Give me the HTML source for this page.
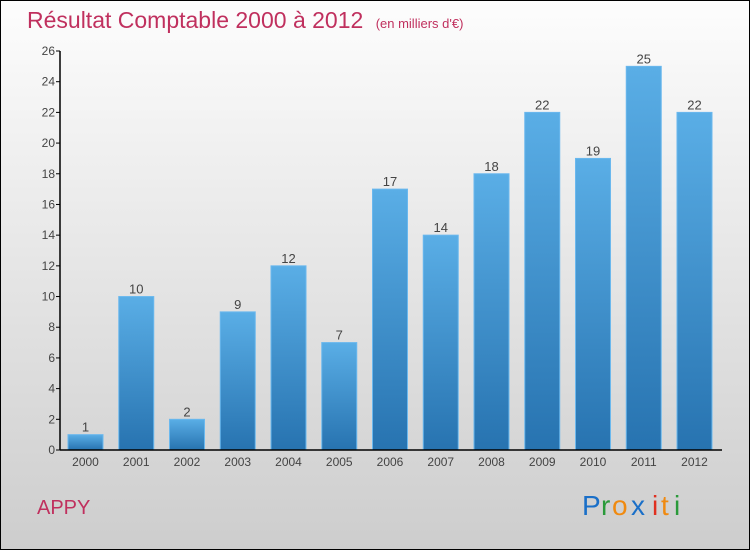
<!DOCTYPE html>
<html><head><meta charset="utf-8"><style>
html,body{margin:0;padding:0}
body{width:750px;height:550px;overflow:hidden;font-family:"Liberation Sans",sans-serif}
</style></head><body>
<svg width="750" height="550" viewBox="0 0 750 550">
<defs>
<linearGradient id="bg" x1="0" y1="0" x2="0" y2="1"><stop offset="0" stop-color="#fdfdfd"/><stop offset="1" stop-color="#cdcdcd"/></linearGradient>
<linearGradient id="bar" x1="0" y1="0" x2="0" y2="1"><stop offset="0" stop-color="#5aaee6"/><stop offset="1" stop-color="#2773b0"/></linearGradient>
</defs>
<rect x="0.5" y="0.5" width="749" height="549" fill="url(#bg)" stroke="#000"/>
<text x="27" y="28" font-size="23" fill="#c0305e">Résultat Comptable 2000 à 2012 <tspan font-size="13" dx="6">(en milliers d'€)</tspan></text>
<g id="ticks"></g>
<g id="bars"></g>
<line x1="60" y1="450" x2="722" y2="450" stroke="#000" stroke-width="1.5"/>
<line x1="60" y1="51" x2="60" y2="450" stroke="#000" stroke-width="1.5"/>
<text x="37" y="514" font-size="20" fill="#c0305e">APPY</text>
<g font-size="28">
<text x="582" y="515" fill="#1a6fc8">P</text><text x="601" y="515" fill="#2a9a3a">r</text><text x="612" y="515" fill="#f08a10">o</text><text x="631" y="515" fill="#1a6fc8">x</text><text x="652" y="515" fill="#e03020">i</text><text x="661" y="515" fill="#f08a10">t</text><text x="674" y="515" fill="#2a9a3a">i</text>
</g>
</svg>
<script>
const categories=["2000","2001","2002","2003","2004","2005","2006","2007","2008","2009","2010","2011","2012"];
const values=[1,10,2,9,12,7,17,14,18,22,19,25,22];
const yTicks=[0,2,4,6,8,10,12,14,16,18,20,22,24,26];
const NS="http://www.w3.org/2000/svg";
const y=v=>450-v*(399/26);
const x=i=>85.5+i*50.75;
const tg=document.getElementById('ticks'),bg=document.getElementById('bars');
function mk(t,a,p){const e=document.createElementNS(NS,t);for(const k in a)e.setAttribute(k,a[k]);p.appendChild(e);return e;}
yTicks.forEach(v=>{
 const l=mk('line',{x1:56,x2:60,y1:y(v),y2:y(v),stroke:'#000'},tg);
 
 
 const t=mk('text',{x:55,y:y(v)+4,'text-anchor':'end','font-size':12,fill:'#444'},tg);
 t.textContent=v;
 
 
});
categories.forEach((c,i)=>{
 const r=mk('rect',{x:x(i)-17.5,y:y(values[i]),width:35,height:450-y(values[i]),fill:'url(#bar)',stroke:'#6ab8ee','stroke-width':1},bg);
 
 
 const t=mk('text',{x:x(i),y:y(values[i])-3,'text-anchor':'middle','font-size':13,fill:'#444'},bg);
 t.textContent=values[i];
 
 
 const xl=mk('text',{x:x(i),y:466,'text-anchor':'middle','font-size':12,fill:'#444'},bg);
 xl.textContent=c;
 
 
});
</script>
</body></html>
